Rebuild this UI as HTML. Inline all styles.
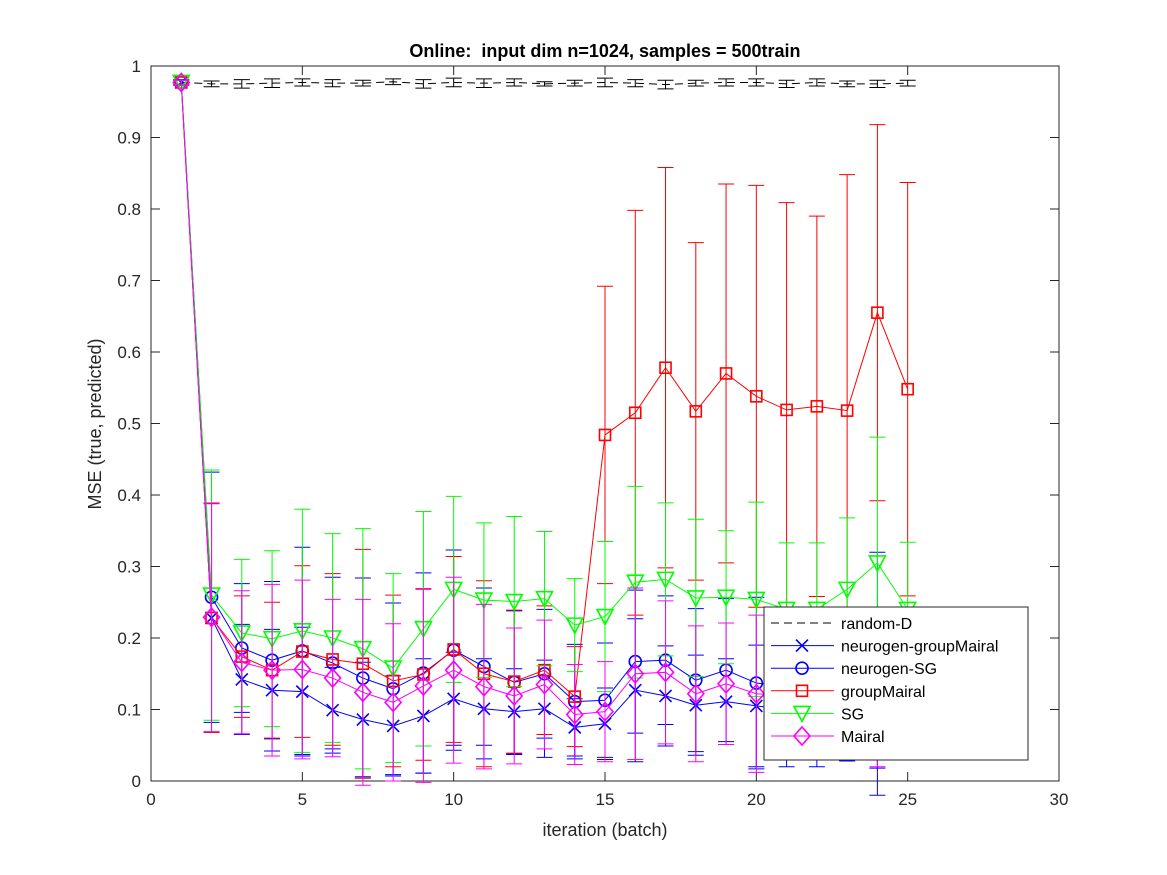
<!DOCTYPE html>
<html><head><meta charset="utf-8"><style>
body{margin:0;background:#fff}
svg{display:block;font-family:"Liberation Sans",sans-serif}
</style></head><body>
<svg id="c" width="1167" height="875"></svg>
<script>
const iters=[1,2,3,4,5,6,7,8,9,10,11,12,13,14,15,16,17,18,19,20,21,22,23,24,25];
const randomD=[0.977,0.975,0.975,0.976,0.977,0.976,0.976,0.978,0.975,0.977,0.976,0.977,0.975,0.976,0.977,0.976,0.974,0.976,0.977,0.977,0.975,0.977,0.975,0.975,0.976];
const randomDErr=[0.004,0.004,0.006,0.006,0.005,0.005,0.004,0.004,0.006,0.006,0.006,0.005,0.003,0.004,0.006,0.005,0.006,0.004,0.005,0.005,0.005,0.005,0.004,0.005,0.004];
const ngm=[0.977,0.228,0.142,0.127,0.125,0.099,0.086,0.077,0.091,0.115,0.101,0.097,0.101,0.075,0.080,0.127,0.119,0.106,0.111,0.105,0.100,0.100,0.108,0.118,0.110];
const ngmErr=[0.003,0.16,0.077,0.085,0.09,0.06,0.08,0.07,0.08,0.065,0.07,0.06,0.068,0.04,0.05,0.1,0.07,0.07,0.06,0.085,0.08,0.08,0.08,0.1,0.08];
const nsg=[0.977,0.257,0.186,0.169,0.182,0.165,0.144,0.129,0.151,0.183,0.160,0.138,0.150,0.111,0.113,0.167,0.169,0.141,0.155,0.137,0.132,0.132,0.140,0.150,0.140];
const nsgErr=[0.003,0.175,0.09,0.11,0.145,0.12,0.14,0.12,0.14,0.14,0.11,0.1,0.09,0.08,0.08,0.1,0.09,0.1,0.1,0.12,0.1,0.1,0.1,0.17,0.1];
const gm=[0.977,0.228,0.174,0.155,0.181,0.170,0.164,0.140,0.149,0.184,0.150,0.139,0.155,0.118,0.484,0.515,0.578,0.517,0.570,0.538,0.519,0.524,0.518,0.655,0.548];
const gmErr=[0.003,0.16,0.085,0.095,0.12,0.12,0.16,0.12,0.12,0.13,0.13,0.1,0.09,0.07,0.208,0.283,0.28,0.236,0.265,0.295,0.29,0.266,0.33,0.263,0.289];
const sg=[0.977,0.260,0.207,0.199,0.210,0.200,0.185,0.158,0.213,0.268,0.253,0.251,0.255,0.218,0.230,0.278,0.282,0.256,0.257,0.254,0.240,0.240,0.268,0.305,0.240];
const sgErr=[0.003,0.175,0.103,0.123,0.17,0.146,0.168,0.132,0.164,0.13,0.108,0.119,0.094,0.065,0.105,0.134,0.107,0.11,0.093,0.136,0.093,0.093,0.1,0.176,0.094];
const mai=[0.977,0.229,0.166,0.155,0.156,0.144,0.124,0.110,0.133,0.155,0.132,0.119,0.135,0.093,0.097,0.150,0.152,0.122,0.136,0.122,0.120,0.120,0.120,0.130,0.120];
const maiErr=[0.003,0.16,0.1,0.12,0.125,0.11,0.13,0.11,0.135,0.13,0.115,0.095,0.09,0.07,0.07,0.12,0.1,0.095,0.085,0.11,0.09,0.09,0.09,0.11,0.09];
const xTicks=[0,5,10,15,20,25,30];
const yTicks=[0,0.1,0.2,0.3,0.4,0.5,0.6,0.7,0.8,0.9,1];

const NS="http://www.w3.org/2000/svg";
const svg=document.getElementById('c');
const L=151,R=1059,T=66,B=781;
const xs=v=>L+(v-0)/30*(R-L);
const ys=v=>B-(v-0)/1*(B-T);
function mk(tag,attrs,parent){const e=document.createElementNS(NS,tag);for(const k in attrs)e.setAttribute(k,attrs[k]);(parent||svg).appendChild(e);return e;}

const ax=mk('g',{});


mk('rect',{x:L,y:T,width:R-L,height:B-T,fill:'#fff',stroke:'#262626','stroke-width':1},ax);
xTicks.forEach(t=>{const x=xs(t);
 mk('line',{x1:x,x2:x,y1:B,y2:B-9,stroke:'#262626'},ax);
 mk('line',{x1:x,x2:x,y1:T,y2:T+9,stroke:'#262626'},ax);
 const tx=mk('text',{x:x,y:B+24,'text-anchor':'middle','font-size':17,fill:'#262626'},ax);tx.textContent=t;
 
 
});
yTicks.forEach(t=>{const y=ys(t);
 mk('line',{x1:L,x2:L+9,y1:y,y2:y,stroke:'#262626'},ax);
 mk('line',{x1:R,x2:R-9,y1:y,y2:y,stroke:'#262626'},ax);
 const tx=mk('text',{x:L-10,y:y+6,'text-anchor':'end','font-size':17,fill:'#262626'},ax);tx.textContent=t;
 
 
});
let t=mk('text',{x:605,y:57,'text-anchor':'middle','font-size':18,'font-weight':'bold',fill:'#000'});t.textContent='Online:\u00a0 input dim n=1024, samples = 500train';


t=mk('text',{x:605,y:836,'text-anchor':'middle','font-size':18,fill:'#262626'});t.textContent='iteration (batch)';


t=mk('text',{x:0,y:0,'text-anchor':'middle','font-size':18,fill:'#262626',transform:'translate(101,424) rotate(-90)'});t.textContent='MSE (true, predicted)';



function marker(g,type,x,y,c){
 const s=6;
 if(type==='x'){mk('path',{d:`M${x-s} ${y-s}L${x+s} ${y+s}M${x-s} ${y+s}L${x+s} ${y-s}`,stroke:c,'stroke-width':1.6,fill:'none'},g);}
 else if(type==='o'){mk('circle',{cx:x,cy:y,r:s,stroke:c,'stroke-width':1.6,fill:'none'},g);}
 else if(type==='s'){mk('rect',{x:x-5.5,y:y-5.5,width:11,height:11,stroke:c,'stroke-width':1.6,fill:'none'},g);}
 else if(type==='v'){mk('path',{d:`M${x-8} ${y-7}L${x+8} ${y-7}L${x} ${y+8}Z`,stroke:c,'stroke-width':1.6,fill:'none'},g);}
 else if(type==='d'){mk('path',{d:`M${x} ${y-9}L${x+8} ${y}L${x} ${y+9}L${x-8} ${y}Z`,stroke:c,'stroke-width':1.6,fill:'none'},g);}
}
const series=[
 {name:'random-D',vals:randomD,err:randomDErr,c:'#000',m:null,dash:'8,5'},
 {name:'neurogen-groupMairal',vals:ngm,err:ngmErr,c:'#0000ff',m:'x'},
 {name:'neurogen-SG',vals:nsg,err:nsgErr,c:'#0000ff',m:'o'},
 {name:'groupMairal',vals:gm,err:gmErr,c:'#ff0000',m:'s'},
 {name:'SG',vals:sg,err:sgErr,c:'#00ff00',m:'v'},
 {name:'Mairal',vals:mai,err:maiErr,c:'#ff00ff',m:'d'}
];
series.forEach(s=>{
 const g=mk('g',{});
 
 
 iters.forEach((it,i)=>{const x=xs(it),y1=ys(s.vals[i]-s.err[i]),y2=ys(s.vals[i]+s.err[i]);
  mk('path',{d:`M${x} ${y1}L${x} ${y2}M${x-8} ${y1}L${x+8} ${y1}M${x-8} ${y2}L${x+8} ${y2}`,stroke:s.c,'stroke-width':1,fill:'none'},g);});
 const d=iters.map((it,i)=>(i?'L':'M')+xs(it)+' '+ys(s.vals[i])).join('');
 const p=mk('path',{d:d,stroke:s.c,'stroke-width':1,fill:'none'},g);
 if(s.dash)p.setAttribute('stroke-dasharray',s.dash);
 if(s.m)iters.forEach((it,i)=>marker(g,s.m,xs(it),ys(s.vals[i]),s.c));
});
const lg=mk('g',{});


mk('rect',{x:764,y:607,width:264,height:153,fill:'#fff',stroke:'#262626','stroke-width':1},lg);
series.forEach((s,i)=>{const y=623+i*22.6;
 const e=mk('g',{},lg);
 
 
 const ln=mk('line',{x1:771,x2:834,y1:y,y2:y,stroke:s.c,'stroke-width':1},e);
 if(s.dash)ln.setAttribute('stroke-dasharray',s.dash);
 if(s.m)marker(e,s.m,802,y,s.c);
 const tx=mk('text',{x:841,y:y+6,'font-size':16,fill:'#000'},e);tx.textContent=s.name;
});
</script>
</body></html>
